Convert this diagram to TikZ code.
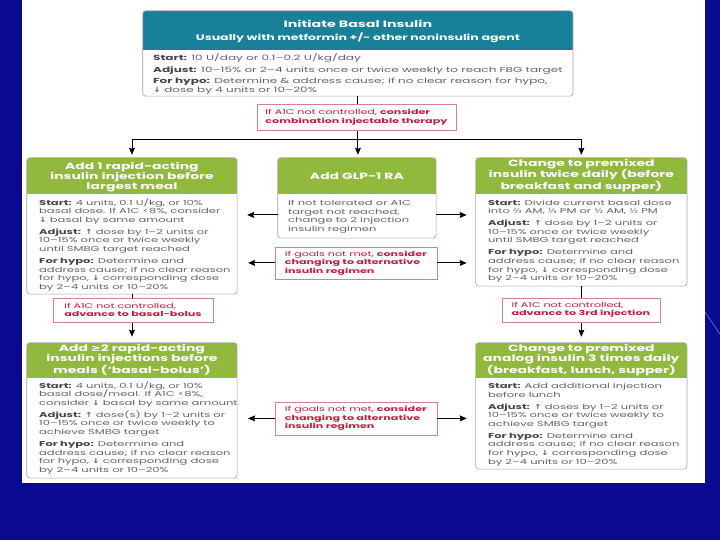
\documentclass[tikz,border=0pt]{standalone}
\usepackage{fontspec}
\setmainfont{Poppins}[FakeStretch=1.65]
\newfontfamily\headfont{Poppins}[FakeStretch=1.55]
\newfontfamily\symfont{DejaVu Sans}[FakeStretch=1.3]
\usetikzlibrary{arrows.meta,fit}
\definecolor{bgnavy}{RGB}{10,10,145}
\definecolor{hteal}{RGB}{24,128,152}
\definecolor{hgreen}{RGB}{145,185,62}
\definecolor{redtxt}{RGB}{190,30,60}
\definecolor{redline}{RGB}{210,130,145}
\definecolor{boxgray}{RGB}{165,165,165}
\definecolor{bodygray}{RGB}{100,100,100}
\definecolor{labgray}{RGB}{70,70,70}
\newcommand{\uarr}{{\symfont\bfseries ↑}}
\newcommand{\darr}{{\symfont\bfseries ↓}}
\newcommand{\lab}[1]{{\bfseries\color{labgray}#1}}
\newcommand{\mkbox}[5]{%
  \node[fit={#2 #3}, inner sep=0pt] (#1) {};
  \begin{scope}
    \clip[rounded corners=3pt] (#1.north west) rectangle (#1.south east);
    \fill[white] (#1.north west) rectangle (#1.south east);
    \fill[#5] (#1.north west) rectangle (#1.east |- 0,#4);
  \end{scope}
  \draw[boxline] (#1.north west) rectangle (#1.south east);}
\begin{document}
\begin{tikzpicture}[x=1pt,y=-1pt,
  boxline/.style={draw=boxgray, line width=0.6pt, rounded corners=3pt},
  bodytxt/.style={anchor=base west, inner sep=0pt, align=left, text=bodygray,
    font=\fontsize{7}{8.6}\selectfont},
  toptxt/.style={bodytxt, font=\fontsize{7.3}{8.9}\selectfont},
  headtxt/.style={anchor=base, inner sep=0pt, align=center, text=white,
    font=\headfont\bfseries\fontsize{9}{10}\selectfont},
  redbox/.style={draw=redline, fill=white, line width=0.6pt, inner sep=0pt,
    align=left, text=redtxt, font=\fontsize{6.75}{8.7}\selectfont},
  arr/.style={draw=black, line width=0.9pt, -{Stealth[length=7pt,width=6pt,inset=1pt]}}]
\fill[bgnavy] (0,0) rectangle (720,540);
\fill[white] (22,0) rectangle (705,483);
\draw[white!60!bgnavy, line width=0.4pt] (705,312) -- (720,334);
\useasboundingbox (0,0) rectangle (720,540);

% ---- boxes ----
\mkbox{top}{(143,11)}{(573,96)}{50}{hteal}
\mkbox{add1}{(27,158)}{(237,294)}{194}{hgreen}
\mkbox{glp}{(278,158)}{(436,238)}{194}{hgreen}
\mkbox{prem}{(476,158)}{(687,286)}{194}{hgreen}
\mkbox{bb}{(27,343)}{(237,478)}{378}{hgreen}
\mkbox{prem3}{(476,343)}{(687,469)}{378}{hgreen}

% ---- connectors ----
\coordinate (br) at (358,139.5);
\draw[arr, shorten >=3pt] (top.south) -- (top.south |- glp.north);
\draw[arr, shorten >=3pt] (br) -| (add1.north);
\draw[arr, shorten >=3pt] (br) -| (prem.north);
\draw[arr, shorten >=6pt] (add1.south) -- (bb.north);
\draw[arr, shorten >=6pt] (prem.south) -- (prem3.north);
\draw[arr, shorten >=10pt] (glp.west |- 0,215) -- (add1.east |- 0,215);
\draw[arr, shorten >=9pt] (glp.east |- 0,215) -- (prem.west |- 0,215);

% ---- red notes ----
\node[redbox, minimum width=199pt, minimum height=26pt] (r1) at (356.5,117)
  {If A1C not controlled, \textbf{consider}\\\textbf{combination injectable therapy}};
\node[redbox, minimum width=162pt, minimum height=32pt] (r2) at (356,263)
  {If goals not met, \textbf{consider}\\\textbf{changing to alternative}\\\textbf{insulin regimen}};
\node[redbox, minimum width=160pt, minimum height=24pt] (r3) at (133,310)
  {If A1C not controlled,\\\textbf{advance to basal-bolus}};
\node[redbox, minimum width=158pt, minimum height=24pt] (r4) at (581,310)
  {If A1C not controlled,\\\textbf{advance to 3rd injection}};
\node[redbox, minimum width=162pt, minimum height=33pt] (r5) at (356,418.5)
  {If goals not met, \textbf{consider}\\\textbf{changing to alternative}\\\textbf{insulin regimen}};
\draw[arr, shorten >=11pt] (r2.west) -- (add1.east |- r2.west);
\draw[arr, shorten >=9pt] (r2.east) -- (prem.west |- r2.east);
\draw[arr, shorten >=11pt] (r5.west) -- (bb.east |- r5.west);
\draw[arr, shorten >=9pt] (r5.east) -- (prem3.west |- r5.east);

% ---- headers (anchor base = last line) ----
\node[headtxt, font=\headfont\bfseries\fontsize{9.2}{13.5}\selectfont] (th) at (358,41)
  {Initiate Basal Insulin\\{\fontsize{8.1}{10}\selectfont Usually with metformin +/- other noninsulin agent}};
\node[headtxt] (h1) at (132,189.5) {Add 1 rapid-acting\\insulin injection before\\largest meal};
\node[headtxt] (h2) at (357,179.5) {Add GLP-1 RA};
\node[headtxt] (h3) at (581.5,189.5) {Change to premixed\\insulin twice daily (before\\breakfast and supper)};
\node[headtxt] (h4) at (132,373.5) {Add {\symfont ≥}2 rapid-acting\\insulin injections before\\meals (‘basal-bolus’)};
\node[headtxt] (h5) at (581.5,373.5) {Change to premixed\\analog insulin 3 times daily\\(breakfast, lunch, supper)};

% ---- body texts (anchor base = last line) ----
\node[toptxt] (tb) at (153,92.7)
  {\lab{Start:} 10 U/day or 0.1–0.2 U/kg/day\\[2.8pt]
   \lab{Adjust:} 10–15\% or 2–4 units once or twice weekly to reach FBG target\\[2.8pt]
   \lab{For hypo:} Determine \& address cause; if no clear reason for hypo,\\
   \darr\ dose by 4 units or 10–20\%};
\node[bodytxt] (b1) at (39,289.3)
  {\lab{Start:} 4 units, 0.1 U/kg, or 10\%\\
   basal dose. If A1C <8\%, consider\\
   \darr\ basal by same amount\\[3.4pt]
   \lab{Adjust:} \uarr\ dose by 1–2 units or\\
   10–15\% once or twice weekly\\
   until SMBG target reached\\[3.4pt]
   \lab{For hypo:} Determine and\\
   address cause; if no clear reason\\
   for hypo, \darr\ corresponding dose\\
   by 2–4 units or 10–20\%};
\node[bodytxt] (b2) at (288,231.5)
  {If not tolerated or A1C\\target not reached,\\change to 2 injection\\insulin regimen};
\node[bodytxt] (b3) at (488,280.7)
  {\lab{Start:} Divide current basal dose\\
   into {\symfont ⅔} AM, {\symfont ⅓} PM or {\symfont ½} AM, {\symfont ½} PM\\[3.4pt]
   \lab{Adjust:} \uarr\ dose by 1–2 units or\\
   10–15\% once or twice weekly\\
   until SMBG target reached\\[3.4pt]
   \lab{For hypo:} Determine and\\
   address cause; if no clear reason\\
   for hypo, \darr\ corresponding dose\\
   by 2–4 units or 10–20\%};
\node[bodytxt] (b4) at (39,472.5)
  {\lab{Start:} 4 units, 0.1 U/kg, or 10\%\\
   basal dose/meal. If A1C <8\%,\\
   consider \darr\ basal by same amount\\[3.4pt]
   \lab{Adjust:} \uarr\ dose(s) by 1–2 units or\\
   10–15\% once or twice weekly to\\
   achieve SMBG target\\[3.4pt]
   \lab{For hypo:} Determine and\\
   address cause; if no clear reason\\
   for hypo, \darr\ corresponding dose\\
   by 2–4 units or 10–20\%};
\node[bodytxt] (b5) at (488,464.3)
  {\lab{Start:} Add additional injection\\
   before lunch\\[3.4pt]
   \lab{Adjust:} \uarr\ doses by 1–2 units or\\
   10–15\% once or twice weekly to\\
   achieve SMBG target\\[3.4pt]
   \lab{For hypo:} Determine and\\
   address cause; if no clear reason\\
   for hypo, \darr\ corresponding dose\\
   by 2–4 units or 10–20\%};
\end{tikzpicture}
\end{document}
